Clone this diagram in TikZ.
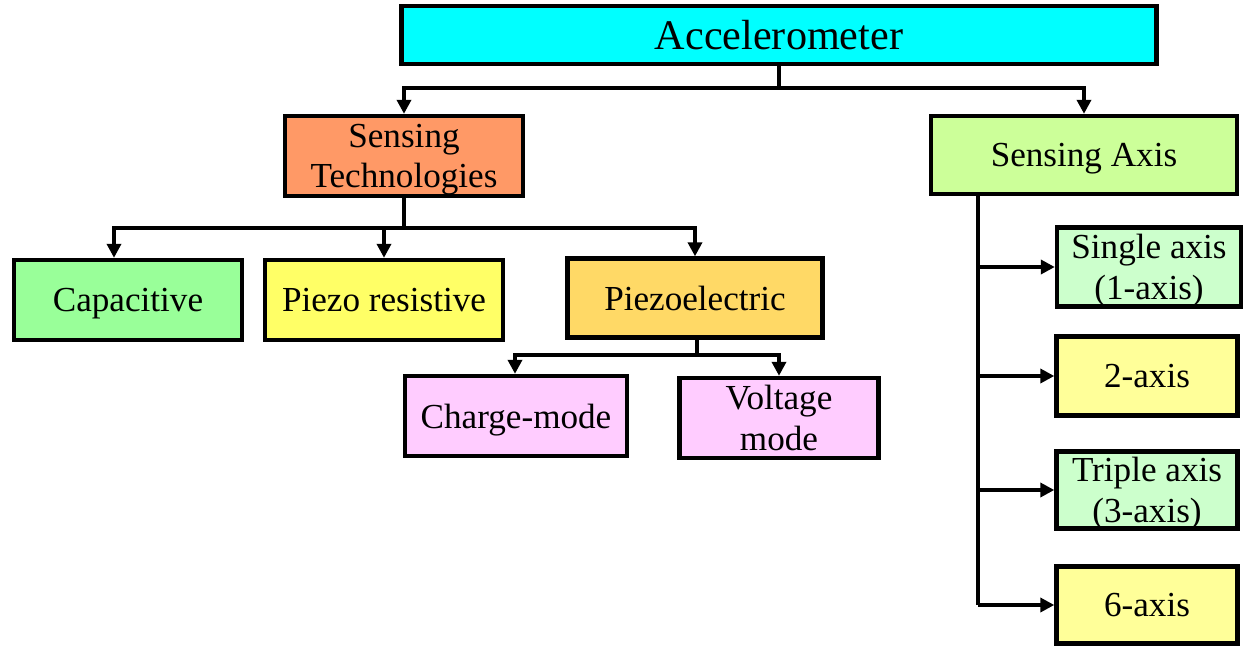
\documentclass[tikz,border=0pt]{standalone}
\usepackage{fontspec}
\setmainfont{Liberation Serif}
\usetikzlibrary{arrows.meta,positioning,calc}
\definecolor{accfill}{HTML}{00FFFF}
\definecolor{techfill}{HTML}{FF9966}
\definecolor{axisfill}{HTML}{CCFF99}
\definecolor{capfill}{HTML}{99FF99}
\definecolor{presfill}{HTML}{FFFF66}
\definecolor{pelfill}{HTML}{FFD966}
\definecolor{modefill}{HTML}{FFCCFF}
\definecolor{mintfill}{HTML}{CCFFCC}
\definecolor{paleyellow}{HTML}{FFFF99}
\tikzset{
box/.style = {draw, rectangle, line width=2.5pt, align=center, inner sep=2pt,
  text depth=0pt, font=\fontsize{20}{23}\selectfont},
tmp/.style = {coordinate},
link/.style = {line width=2.2pt}
}
\begin{document}
\begin{tikzpicture}[x=0.02cm, y=-0.02cm, >={Triangle[length=8pt,width=8pt]}]
        \useasboundingbox (0,0) rectangle (1245,646);
        % top level
        \node [box, fill=accfill, minimum width=15.1cm, minimum height=1.15cm,
          font=\fontsize{24}{28}\selectfont] (acc) at (779,35) {Accelerometer};
        \node [box, fill=techfill, minimum width=4.76cm, minimum height=1.6cm] (tech) at (404,156) {Sensing\\Technologies};
        \node [box, fill=axisfill, minimum width=6.12cm, minimum height=1.56cm] (axis) at (1084,155) {Sensing Axis};
        % technologies
        \node [box, fill=capfill, minimum width=4.56cm, minimum height=1.6cm] (cap) at (128,300) {Capacitive};
        \node [box, fill=presfill, minimum width=4.76cm, minimum height=1.6cm] (pres) at (384,300) {Piezo resistive};
        \node [box, fill=pelfill, minimum width=5.1cm, minimum height=1.58cm] (pel) at (695,298) {Piezoelectric};
        \node [box, fill=modefill, minimum width=4.44cm, minimum height=1.6cm] (charge) at (516,416) {Charge-mode};
        \node [box, fill=modefill, minimum width=3.98cm, minimum height=1.6cm] (volt) at (779,418) {Voltage\\mode};
        % axes
        \node [box, fill=mintfill, minimum width=3.68cm, minimum height=1.58cm] (single) at (1149,267) {Single axis\\(1-axis)};
        \node [box, fill=paleyellow, minimum width=3.62cm, minimum height=1.58cm] (two) at (1147,376) {2-axis};
        \node [box, fill=mintfill, minimum width=3.62cm, minimum height=1.54cm] (triple) at (1147,490) {Triple axis\\(3-axis)};
        \node [box, fill=paleyellow, minimum width=3.62cm, minimum height=1.54cm] (six) at (1147,605) {6-axis};
        % junctions
        \node [tmp] (j1) at (779,88) {};
        \node [tmp] (j2) at (404,228) {};
        \node [tmp] (j3) at (697,355) {};
        \coordinate (axtop) at ($(axis.south)+(-106,0)$);
        \coordinate (axbot) at (978,605);
        \draw [link] (acc) -- (j1);
        \draw [link, ->] (j1) -| (tech);
        \draw [link, ->] (j1) -| (axis);
        \draw [link] (tech) -- (j2);
        \draw [link, ->] (j2) -| ($(cap.north)+(-14,0)$);
        \draw [link, ->] (j2) -| (pres);
        \draw [link, ->] (j2) -| (pel);
        \draw [link] (pel.south -| j3) -- (j3);
        \draw [link, ->] (j3) -| ($(charge.north)+(-1,0)$);
        \draw [link, ->] (j3) -| (volt);
        \draw [link] (axtop) -- (axbot);
        \draw [link, ->] (axtop |- single) -- (single);
        \draw [link, ->] (axtop |- two) -- (two);
        \draw [link, ->] (axtop |- triple) -- (triple);
        \draw [link, ->] (axbot) -- (six);
        \end{tikzpicture}
\end{document}
